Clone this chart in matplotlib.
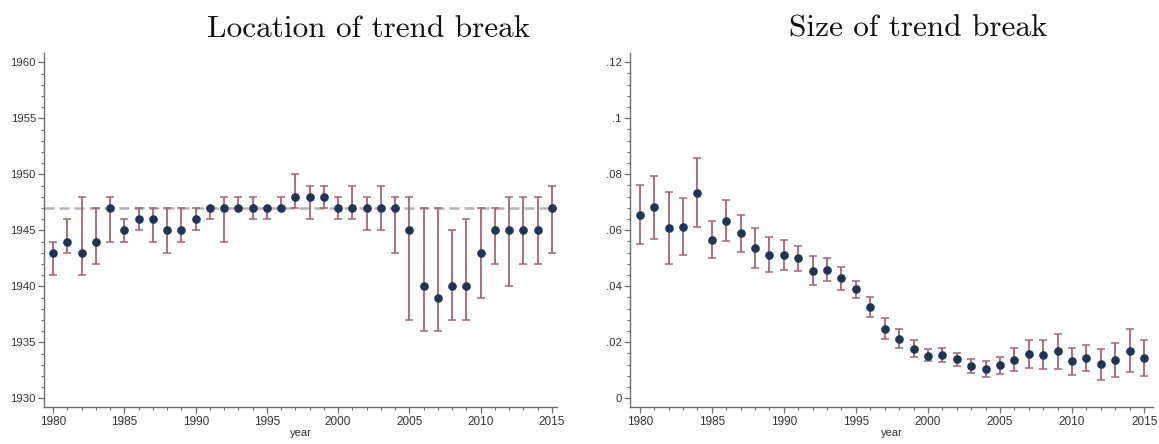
import matplotlib
matplotlib.use("Agg")
import matplotlib.pyplot as plt
from matplotlib.ticker import MultipleLocator, FuncFormatter
import numpy as np

years = list(range(1980, 2016))

# Estimated break year with confidence bounds
loc_est = [1943, 1944, 1943, 1944, 1947, 1945, 1946, 1946, 1945, 1945,
           1946, 1947, 1947, 1947, 1947, 1947, 1947, 1948, 1948, 1948,
           1947, 1947, 1947, 1947, 1947, 1945, 1940, 1939, 1940, 1940,
           1943, 1945, 1945, 1945, 1945, 1947]
loc_lo = [1941, 1943, 1941, 1942, 1944, 1944, 1945, 1944, 1943, 1944,
          1945, 1946, 1944, 1947, 1946, 1946, 1947, 1947, 1946, 1947,
          1946, 1946, 1945, 1945, 1943, 1937, 1936, 1936, 1937, 1937,
          1939, 1942, 1940, 1942, 1942, 1943]
loc_hi = [1944, 1946, 1948, 1947, 1948, 1946, 1947, 1947, 1947, 1947,
          1947, 1947, 1948, 1948, 1948, 1947, 1948, 1950, 1949, 1949,
          1948, 1949, 1948, 1949, 1948, 1948, 1947, 1947, 1945, 1946,
          1947, 1947, 1948, 1948, 1948, 1949]
loc_ref = 1947

# Estimated break size with confidence bounds
size_est = [0.0656, 0.0682, 0.0607, 0.0612, 0.0734, 0.0567, 0.0634, 0.0589,
            0.0538, 0.0513, 0.0511, 0.0500, 0.0455, 0.0459, 0.0430, 0.0389,
            0.0327, 0.0249, 0.0212, 0.0177, 0.0152, 0.0155, 0.0139, 0.0114,
            0.0104, 0.0118, 0.0138, 0.0157, 0.0156, 0.0169, 0.0132, 0.0144,
            0.0121, 0.0138, 0.0170, 0.0144]
size_lo = [0.0551, 0.0568, 0.0480, 0.0511, 0.0611, 0.0502, 0.0562, 0.0524,
           0.0465, 0.0451, 0.0457, 0.0456, 0.0404, 0.0420, 0.0388, 0.0359,
           0.0291, 0.0211, 0.0179, 0.0149, 0.0132, 0.0130, 0.0115, 0.0089,
           0.0077, 0.0087, 0.0098, 0.0107, 0.0105, 0.0105, 0.0084, 0.0098,
           0.0065, 0.0077, 0.0093, 0.0081]
size_hi = [0.0761, 0.0794, 0.0736, 0.0717, 0.0859, 0.0632, 0.0708, 0.0656,
           0.0609, 0.0576, 0.0567, 0.0545, 0.0509, 0.0502, 0.0470, 0.0420,
           0.0362, 0.0286, 0.0246, 0.0208, 0.0175, 0.0181, 0.0163, 0.0140,
           0.0132, 0.0147, 0.0180, 0.0207, 0.0208, 0.0231, 0.0179, 0.0189,
           0.0176, 0.0198, 0.0246, 0.0208]

ERR_COLOR = "#a8636f"
DOT_COLOR = "#1d3557"
AXIS_COLOR = "#6e6e6e"
TEXT_COLOR = "#333333"

plt.rcParams["font.family"] = ["Liberation Sans", "DejaVu Sans"]

fig = plt.figure(figsize=(11.59, 4.44), dpi=100)
ax1 = fig.add_axes([0.0382, 0.0840, 0.4424, 0.7966])
ax2 = fig.add_axes([0.5436, 0.0840, 0.4513, 0.7966])


def style(ax):
    for s in ("top", "right"):
        ax.spines[s].set_visible(False)
    for s in ("left", "bottom"):
        ax.spines[s].set_color(AXIS_COLOR)
        ax.spines[s].set_linewidth(1.0)
    ax.tick_params(which="major", direction="out", length=4, width=0.9,
                   color=AXIS_COLOR, labelcolor=TEXT_COLOR, pad=2)
    ax.tick_params(axis="x", which="major", labelsize=8.5, pad=2.5)
    ax.tick_params(axis="y", which="major", labelsize=8.2)
    ax.tick_params(which="minor", direction="out", length=2.2, width=0.8,
                   color=AXIS_COLOR)
    ax.xaxis.set_major_locator(MultipleLocator(5))
    ax.xaxis.set_minor_locator(MultipleLocator(1))
    ax.set_xlabel("year", fontsize=8, color=TEXT_COLOR, labelpad=0.5)


def draw(ax, est, lo, hi):
    est = np.asarray(est)
    yerr = np.vstack([est - np.asarray(lo), np.asarray(hi) - est])
    ax.errorbar(years, est, yerr=yerr, fmt="none", ecolor=ERR_COLOR,
                elinewidth=1.3, capsize=2.7, capthick=1.1, zorder=2)
    ax.plot(years, est, "o", color=DOT_COLOR, markersize=5.2, zorder=3)


# Left panel: location
style(ax1)
ax1.axhline(loc_ref, color="#b3b3b3", lw=1.8, ls=(0, (4, 2)), zorder=1)
draw(ax1, loc_est, loc_lo, loc_hi)
ax1.set_xlim(1979.37, 2015.37)
ax1.set_ylim(1929.25, 1960.83)
ax1.yaxis.set_major_locator(MultipleLocator(5))
ax1.yaxis.set_minor_locator(MultipleLocator(1))

# Right panel: size
style(ax2)
draw(ax2, size_est, size_lo, size_hi)
ax2.set_xlim(1979.33, 2015.62)
ax2.set_ylim(-0.003, 0.1233)
ax2.yaxis.set_major_locator(MultipleLocator(0.02))
ax2.yaxis.set_minor_locator(MultipleLocator(0.004))


def frac_fmt(v, pos):
    if abs(v) < 1e-12:
        return "0"
    s = f"{v:.2f}".rstrip("0")
    return s[1:] if s.startswith("0") else s


ax2.yaxis.set_major_formatter(FuncFormatter(frac_fmt))

fig.text(207 / 1159, 1 - 36.7 / 444, "Location of trend break",
         fontfamily="cmr10", fontsize=22.5, ha="left", va="baseline", color="#111111")
fig.text(1047 / 1159, 1 - 36.7 / 444, "Size of trend break",
         fontfamily="cmr10", fontsize=22.5, ha="right", va="baseline", color="#111111")

fig.savefig("out.png", dpi=100, facecolor="white")
